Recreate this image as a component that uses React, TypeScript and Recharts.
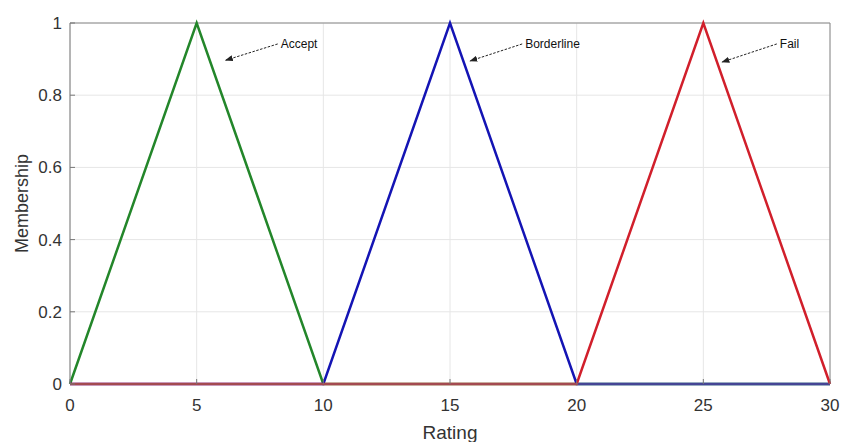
import { LineChart, Line, XAxis, YAxis, CartesianGrid, ReferenceLine } from "recharts";

const ratings = [0, 5, 10, 15, 20, 25, 30];
const accept = [0, 1, 0, 0, 0, 0, 0];
const borderline = [0, 0, 0, 1, 0, 0, 0];
const fail = [0, 0, 0, 0, 0, 1, 0];

const xTicks = [0, 5, 10, 15, 20, 25, 30];
const yTicks = [0, 0.2, 0.4, 0.6, 0.8, 1];

// label text, arrow tail (x1,y1) near the text, arrow tip (x2,y2) on the triangle
const noteLabels = ["Accept", "Borderline", "Fail"];
const noteTail = [
  [8.2, 0.942],
  [17.85, 0.942],
  [27.9, 0.942],
];
const noteTip = [
  [6.15, 0.897],
  [15.8, 0.895],
  [25.75, 0.892],
];

const data = ratings.map((r, i) => ({
  rating: r,
  accept: accept[i],
  borderline: borderline[i],
  fail: fail[i],
}));

const font = "'Liberation Sans', Arial, sans-serif";

const ArrowShape = (label: string) => (props: any) => {
  const { x1, y1, x2, y2 } = props;
  return (
    <g>
      <line
        x1={x1}
        y1={y1}
        x2={x2}
        y2={y2}
        stroke="#222"
        strokeWidth={1}
        strokeDasharray="2.5 1.5"
        markerEnd="url(#arrowHead)"
      />
      <text x={x1 + 3} y={y1 + 4} fontSize={12} fill="#111" fontFamily={font}>
        {label}
      </text>
    </g>
  );
};

const XLabel = ({ viewBox }: any) => (
  <text
    x={viewBox.x + viewBox.width / 2}
    y={439}
    textAnchor="middle"
    fontSize={19}
    fill="#333"
    fontFamily={font}
  >
    Rating
  </text>
);

const YLabel = ({ viewBox }: any) => {
  const cy = viewBox.y + viewBox.height / 2;
  return (
    <text
      x={28}
      y={cy}
      transform={`rotate(-90 28 ${cy})`}
      textAnchor="middle"
      fontSize={18}
      fill="#333"
      fontFamily={font}
    >
      Membership
    </text>
  );
};

export default function App() {
  return (
    <div style={{ position: "absolute", left: 0, top: 0, background: "#fff" }}>
      <LineChart
        width={842}
        height={442}
        data={data}
        margin={{ top: 23, right: 12, left: 0, bottom: 0 }}
      >
        <defs>
          <marker id="arrowHead" markerWidth="8" markerHeight="6" refX="7" refY="3" orient="auto" markerUnits="userSpaceOnUse">
            <path d="M0,0 L8,3 L0,6 z" fill="#222" />
          </marker>
        </defs>
        <CartesianGrid stroke="#e6e6e6" strokeWidth={1} />
        <XAxis
          dataKey="rating"
          type="number"
          domain={[0, 30]}
          ticks={xTicks}
          height={58}
          stroke="#777"
          tickSize={-5}
          tickMargin={20}
          tick={{ fill: "#333", fontSize: 17, fontFamily: font }}
          label={<XLabel />}
        />
        <YAxis
          type="number"
          domain={[0, 1]}
          ticks={yTicks}
          width={70}
          stroke="#777"
          tickSize={-5}
          tickMargin={13}
          tick={{ fill: "#333", fontSize: 17, fontFamily: font }}
          label={<YLabel />}
        />
        <ReferenceLine y={1} stroke="#888" />
        <ReferenceLine x={30} stroke="#888" />
        <Line dataKey="accept" stroke="#23862a" strokeWidth={2.5} dot={false} isAnimationActive={false} />
        <Line dataKey="borderline" stroke="#1414b4" strokeWidth={2.5} dot={false} isAnimationActive={false} />
        <Line dataKey="fail" stroke="#d11f2b" strokeWidth={2.5} dot={false} isAnimationActive={false} />
        {noteLabels.map((label, i) => (
          <ReferenceLine
            key={label}
            segment={[
              { x: noteTail[i][0], y: noteTail[i][1] },
              { x: noteTip[i][0], y: noteTip[i][1] },
            ]}
            shape={ArrowShape(label)}
          />
        ))}
      </LineChart>
    </div>
  );
}
